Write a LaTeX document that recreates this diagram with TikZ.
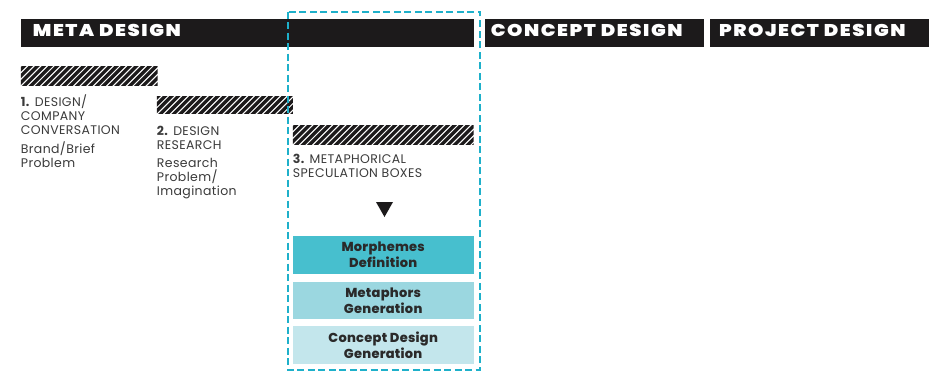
\documentclass[tikz,border=0pt]{standalone}
\usepackage{graphicx}
\usepackage{fontspec}
\setmainfont{Poppins}
\newfontfamily\heavyfont{Poppins ExtraBold}
\newfontfamily\blackfont{Poppins Black}
\newcommand\widetitle[1]{\scalebox{1.15}[1]{#1}}
\definecolor{barblack}{HTML}{1C1A1B}
\definecolor{labelgrey}{HTML}{3A3A3A}
\definecolor{boxtext}{HTML}{2A2A2A}
\definecolor{tealA}{HTML}{47BFCE}
\definecolor{tealB}{HTML}{9BD7E0}
\definecolor{tealC}{HTML}{C3E6EC}
\definecolor{dashteal}{HTML}{1EB0CA}
\begin{document}
\begin{tikzpicture}[x=1pt,y=-1pt,
  phasebar/.style={fill=barblack, draw=none, inner sep=0pt, anchor=north west, minimum height=28pt},
  phasetext/.style={text=white, inner sep=0pt, anchor=base west,
    font=\blackfont\addfontfeatures{LetterSpace=8}\fontsize{17}{18}\selectfont},
  hatchbar/.style={draw=none, inner sep=0pt, anchor=north west, fill=white,
    path picture={
      \foreach \k in {-4,...,32}
        \draw[barblack, line width=3.3pt]
          ([xshift=\k*6.6pt, yshift=-4pt]path picture bounding box.south west) -- ++(28pt,28pt);
    }},
  steplabel/.style={text=labelgrey, inner sep=0pt, anchor=base west, align=left,
    font=\addfontfeatures{LetterSpace=3}\fontsize{12.5}{14}\selectfont},
  stagebox/.style={draw=none, inner sep=0pt, anchor=north west, minimum width=180.6pt,
    text=boxtext, align=center,
    font=\heavyfont\addfontfeatures{LetterSpace=2}\fontsize{13}{16}\selectfont},
  spanframe/.style={draw=dashteal, line width=2pt, dash pattern=on 7pt off 3.5pt}
]
\useasboundingbox (0,0) rectangle (932,372);

% phase header bars
\node[phasebar, minimum width=452.6pt] (meta) at (20.7,18.3) {};
\node[phasebar, minimum width=218.3pt] (concept) at (485,18.3) {};
\node[phasebar, minimum width=218.3pt] (project) at (710,18.3) {};
\node[phasetext] (metaT) at (32.7,36.7) {\widetitle{META DESIGN}};
\node[phasetext] (conceptT) at (490.7,36.7) {\widetitle{CONCEPT DESIGN}};
\node[phasetext] (projectT) at (719,36.7) {\widetitle{PROJECT DESIGN}};

% hatched step bars
\node[hatchbar, minimum width=136.6pt, minimum height=18.3pt] (h1) at (20.7,66.7) {};
\node[hatchbar, minimum width=136pt, minimum height=17.3pt] (h2) at (156.7,96) {};
\node[hatchbar, minimum width=180.6pt, minimum height=19pt] (h3) at (292.7,125) {};

% step descriptions (anchored at the baseline of their last line)
\node[steplabel] (s1) at (20.7,167) {\textbf{1.} DESIGN/\\COMPANY\\CONVERSATION\\[5pt]Brand/Brief\\Problem};
\node[steplabel] (s2) at (156.7,195) {\textbf{2.} DESIGN\\RESEARCH\\[4pt]Research\\Problem/\\Imagination};
\node[steplabel] (s3) at (292.7,177) {\textbf{3.} METAPHORICAL\\SPECULATION BOXES};

% downward marker
\fill[barblack] (376,202) -- (393,202) -- (384.5,217) -- cycle;

% speculation stages
\node[stagebox, fill=tealA, minimum height=37.3pt] (b1) at (292.7,236) {Morphemes\\Definition};
\node[stagebox, fill=tealB, minimum height=37.3pt] (b2) at (292.7,281.7) {Metaphors\\Generation};
\node[stagebox, fill=tealC, minimum height=38pt] (b3) at (292.7,326) {Concept Design\\Generation};

% dashed frame around step 3
\draw[spanframe] (287.5,11.5) rectangle (479.5,369.5);
\end{tikzpicture}
\end{document}
